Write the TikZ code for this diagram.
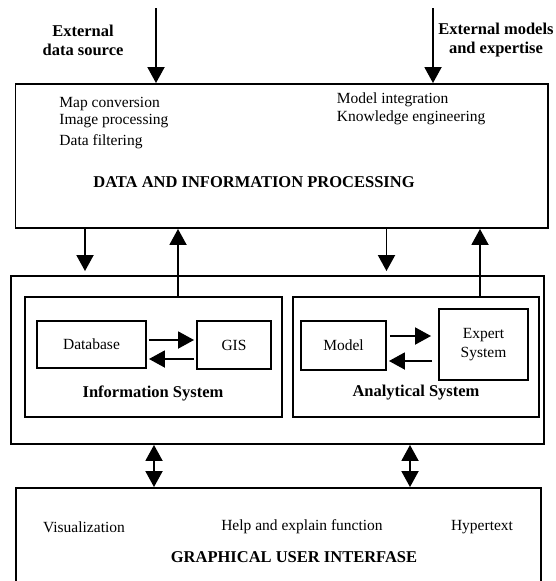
\documentclass[tikz,border=0pt]{standalone}
\usepackage{fontspec}
\setmainfont{Liberation Serif}
\usetikzlibrary{arrows.meta}

\begin{document}
\begin{tikzpicture}[x=1pt,y=-1pt,>={Triangle[width=17pt,length=16pt]},line width=1.9pt,
    font=\fontsize{15.5}{19}\selectfont,
    box/.style={draw,inner sep=0pt,align=center},
    item/.style={inner sep=0pt,anchor=west},
    head/.style={inner sep=0pt,align=center,font=\fontsize{16.5}{19}\selectfont\bfseries}]
    \useasboundingbox (0,0) rectangle (556,581);
    \clip (0,0) rectangle (556,581);

    \node[box,minimum width=532.5pt,minimum height=144pt] (dip) at (281.75,156) {};
    \node[box,minimum width=533pt,minimum height=168pt] (outer) at (277.5,360) {};
    \node[box,minimum width=257pt,minimum height=120pt] (info) at (153.5,357) {};
    \node[box,minimum width=246pt,minimum height=120pt] (anal) at (416,357) {};
    \node[box,minimum width=109pt,minimum height=47pt] (db) at (91.5,344.5) {Database};
    \node[box,minimum width=74pt,minimum height=48pt] (gis) at (234,345) {GIS};
    \node[box,minimum width=85pt,minimum height=49pt] (model) at (343.5,345.5) {Model};
    \node[box,minimum width=89pt,minimum height=71pt] (expert) at (483.5,344.5) {Expert\\System};
    \node[box,minimum width=525pt,minimum height=112pt] (gui) at (278.5,544) {};

    \node[head] (extdata) at (83,40) {External\\data source};
    \node[head] (extmod) at (496,40) {External models\\and expertise};
    \node[item] (mapconv) at (58.5,104) {Map conversion};
    \node[item] (imgproc) at (58.5,121) {Image processing};
    \node[item] (filter) at (58.5,142) {Data filtering};
    \node[item] (modint) at (336,100) {Model integration};
    \node[item] (knoweng) at (336,118) {Knowledge engineering};
    \node[head] (diplbl) at (254,182) {DATA AND INFORMATION PROCESSING};
    \node[head] (infolbl) at (153,393) {Information System};
    \node[head] (anallbl) at (416,393) {Analytical System};
    \node (vis) at (84,527) {Visualization};
    \node (help) at (302,527) {Help and explain function};
    \node (hyper) at (482,527) {Hypertext};
    \node[head] (guilbl) at (294,557) {GRAPHICAL USER INTERFASE};

    \coordinate (src) at (156,8);
    \coordinate (exp) at (433,8);
    \coordinate (c1) at (85,0);
    \coordinate (c2) at (178,0);
    \coordinate (c3) at (386.5,0);
    \coordinate (c4) at (480,0);
    \coordinate (c5) at (154,0);
    \coordinate (c6) at (410,0);
    \coordinate (r1) at (0,340);
    \coordinate (r2) at (0,359);
    \coordinate (r3) at (0,336);
    \coordinate (r4) at (0,361);

    \path[->]
        (src) edge (src |- dip.north)
        (exp) edge (exp |- dip.north)
        (c1 |- dip.south) edge[shorten >=4pt] (c1 |- outer.north)
        (info.north -| c2) edge (c2 |- dip.south)
        (c3 |- dip.south) edge[shorten >=4pt] (c3 |- outer.north)
        (anal.north -| c4) edge (c4 |- dip.south)

        (db.east |- r1) edge[shorten <=2pt,shorten >=2pt] (gis.west |- r1)
        (gis.west |- r2) edge[shorten <=2pt,shorten >=2pt] (db.east |- r2)
        (model.east |- r3) edge[shorten <=3pt,shorten >=7pt] (expert.west |- r3)
        (expert.west |- r4) edge[shorten <=6pt,shorten >=2pt] (model.east |- r4)
    ;

    \path[<->]
        (c5 |- outer.south) edge (c5 |- gui.north)
        (c6 |- outer.south) edge (c6 |- gui.north)
    ;

\end{tikzpicture}
\end{document}
